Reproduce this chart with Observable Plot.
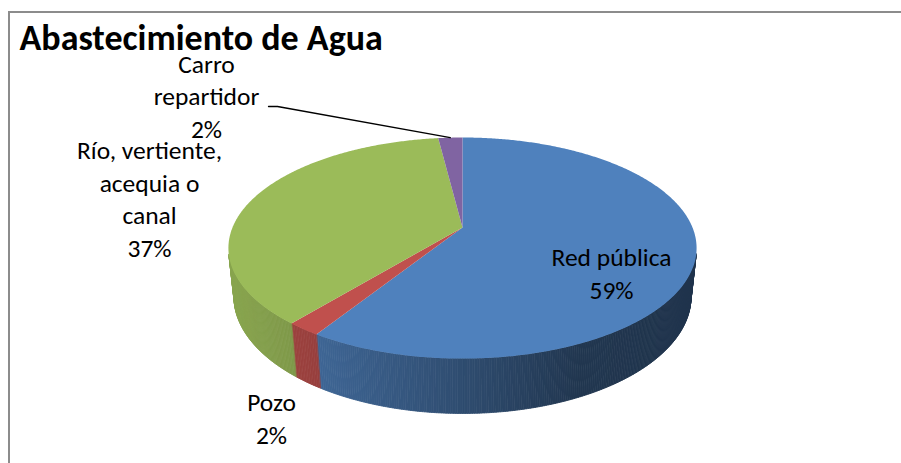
<!DOCTYPE html>
<html><head><meta charset="utf-8">
<script src="https://cdn.jsdelivr.net/npm/d3@7"></script>
<script src="https://cdn.jsdelivr.net/npm/@observablehq/plot@0.6"></script>
<style>
html,body{margin:0;padding:0;background:#fff;overflow:hidden}
#wrap{position:relative;width:901px;height:463px;overflow:hidden}
#frame{position:absolute;left:8px;top:11px;width:1000px;height:1000px;border-left:2px solid #8c8c8c;border-top:2px solid #8c8c8c;box-sizing:border-box}
#chart{position:absolute;left:0;top:0}
</style></head><body>
<div id="wrap"><div id="frame"></div><div id="chart"></div></div>
<script>
// ---- data ----
const title = "Abastecimiento de Agua";
const categories = ["Red pública", "Pozo", "Río, vertiente, acequia o canal", "Carro repartidor"];
const values = [59, 2, 37, 2];
const labelNames = ["Red pública", "Pozo", "Río, vertiente,\nacequia o\ncanal", "Carro\nrepartidor"];
const colors = ["#4f81bd", "#c0504d", "#9bbb59", "#8064a2"];

// ---- layout (label anchors: center x, last baseline y) ----
const labelAnchors = [[611, 298], [271, 443], [149, 256], [206, 137]];
const FONT = "Carlito, Calibri, Lato, 'Open Sans', sans-serif";

// ---- 3D projection of the pie ----
const cx = 462, cy = 227, R = 230, sinA = 0.464, cosA = Math.sqrt(1 - sinA * sinA);
const Ld = cosA / 0.186, F = R * Ld, depthY = 0.2405;
function proj(theta, r, Y) {
  const X = r * Math.sin(theta), Z = -r * Math.cos(theta);
  const dep = Ld - Y * sinA - Z * cosA;
  return [cx + F * X / dep, cy - F * (Y * cosA - Z * sinA) / dep];
}
const total = d3.sum(values);
let acc = 0;
const slices = values.map((v, i) => {
  const a0 = acc / total * 2 * Math.PI; acc += v;
  const a1 = acc / total * 2 * Math.PI;
  return {i, name: categories[i], v, a0, a1, mid: (a0 + a1) / 2};
});

// top faces
const topRows = [];
slices.forEach(s => {
  const [x0, y0] = proj(0, 0, 0);
  topRows.push({slice: s.name, x: x0, y: y0});
  const n = Math.max(4, Math.ceil((s.a1 - s.a0) / (Math.PI / 360)));
  for (let k = 0; k <= n; k++) {
    const t = s.a0 + (s.a1 - s.a0) * k / n;
    const [x, y] = proj(t, 1, 0);
    topRows.push({slice: s.name, x, y});
  }
});

// side faces (visible part of the cylinder wall)
const visLim = Math.acos(-1 / (Ld * cosA));
const shade = d3.scaleLinear().domain([230, 320, 462, 580, 700]).range([0.88, 0.78, 0.59, 0.42, 0.40]).clamp(true);
const sideRows = [];
let qid = 0;
slices.forEach(s => {
  const lo = Math.max(s.a0, visLim), hi = Math.min(s.a1, 2 * Math.PI - visLim);
  if (hi <= lo) return;
  const n = Math.max(2, Math.ceil((hi - lo) / (Math.PI / 360)));
  const base = d3.rgb(colors[s.i]);
  for (let k = 0; k < n; k++) {
    const ta = lo + (hi - lo) * k / n, tb = lo + (hi - lo) * (k + 1) / n;
    const pts = [proj(ta, 1, 0), proj(tb, 1, 0), proj(tb, 1, -depthY), proj(ta, 1, -depthY)];
    const f = shade((pts[0][0] + pts[1][0]) / 2);
    const c = d3.rgb(base.r * f, base.g * f, base.b * f).formatHex();
    pts.forEach(([x, y]) => sideRows.push({id: qid, x, y, c}));
    qid++;
  }
});

// labels
const labelRows = slices.map(s => ({
  x: labelAnchors[s.i][0], y: labelAnchors[s.i][1],
  text: labelNames[s.i] + "\n" + s.v + "%"
}));
// leader line for "Carro repartidor"
const carro = slices[3];
const tip = proj(carro.mid, 1, 0);
const leader = [
  {x: labelAnchors[3][0] + 62, y: labelAnchors[3][1] - 31},
  {x: labelAnchors[3][0] + 71, y: labelAnchors[3][1] - 31},
  {x: tip[0], y: tip[1]}
];

const chart = Plot.plot({
  width: 901, height: 463,
  margin: 0,
  x: {domain: [0, 901], range: [0, 901], axis: null},
  y: {domain: [0, 463], range: [0, 463], axis: null},
  style: {background: "transparent", fontFamily: FONT},
  marks: [
    Plot.line(sideRows, {x: "x", y: "y", z: "id", fill: "c", stroke: "c", strokeWidth: 0.8, curve: "linear-closed"}),
    Plot.line(topRows, {x: "x", y: "y", z: "slice", fill: d => colors[categories.indexOf(d.slice)], stroke: "none", curve: "linear-closed"}),
    Plot.line(leader, {x: "x", y: "y", stroke: "#000", strokeWidth: 1.3}),
    Plot.text(labelRows, {x: "x", y: "y", text: "text", fontSize: 25.5, lineHeight: 1.27, lineAnchor: "bottom", textAnchor: "middle", fill: "#000", fontFamily: FONT}),
    Plot.text([{x: 19, y: 49, text: title}], {x: "x", y: "y", text: "text", fontSize: 36, fontWeight: "bold", textAnchor: "start", lineAnchor: "bottom", fill: "#000", fontFamily: FONT})
  ]
});
document.getElementById("chart").appendChild(chart);
</script>
</body></html>
